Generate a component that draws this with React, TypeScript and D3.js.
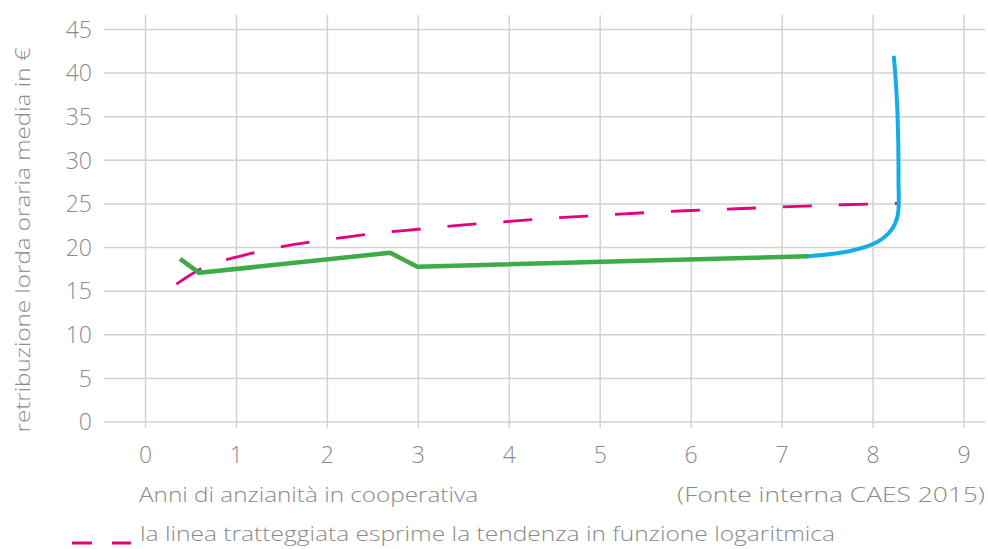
import * as d3 from "d3";

// green series: measured average hourly pay
const greenX = [0.38, 0.59, 2.69, 2.99, 7.29];
const greenY = [18.7, 17.1, 19.4, 17.8, 19.0];

// blue series: continuation at the top of seniority
const blueX = [7.29, 7.75, 8.04, 8.2, 8.27, 8.28, 8.27, 8.25, 8.23];
const blueY = [19.0, 19.6, 20.6, 22.0, 23.6, 27.8, 35.0, 39.0, 41.8];

// pink dashed logarithmic trend
const trendX = [0.34, 0.67, 1.0, 1.5, 2.0, 2.5, 3.0, 3.5, 4.0, 4.5, 5.0, 5.5, 6.0, 6.5, 7.0, 7.5, 8.0, 8.28];
const trendY = [15.8, 17.9, 18.9, 20.1, 20.9, 21.6, 22.1, 22.6, 23.0, 23.4, 23.7, 24.0, 24.25, 24.45, 24.65, 24.85, 25.0, 25.08];

const xTicks = [0, 1, 2, 3, 4, 5, 6, 7, 8, 9];
const yTicks = [0, 5, 10, 15, 20, 25, 30, 35, 40, 45];

const W = 988;
const H = 549;
const GRID = "#d2d2d2";
const TEXT = "#8a8a8a";
const FONT = "'Open Sans', 'Noto Sans', sans-serif";

export default function App() {
  const x = d3.scaleLinear().domain([0, 9]).range([145.5, 964]);
  const y = d3.scaleLinear().domain([0, 45]).range([422, 29.5]);

  const line = d3
    .line<[number, number]>()
    .x((d) => x(d[0]))
    .y((d) => y(d[1]));
  const smooth = d3
    .line<[number, number]>()
    .x((d) => x(d[0]))
    .y((d) => y(d[1]))
    .curve(d3.curveCatmullRom.alpha(0.5));

  const green = greenX.map((v, i) => [v, greenY[i]] as [number, number]);
  const blue = blueX.map((v, i) => [v, blueY[i]] as [number, number]);
  const trend = trendX.map((v, i) => [v, trendY[i]] as [number, number]);

  return (
    <svg
      width={W}
      height={H}
      style={{ position: "absolute", left: 0, top: 0, background: "#fff" }}
      fontFamily={FONT}
    >
      {/* grid */}
      {yTicks.map((t) => (
        <line key={"h" + t} x1={104} x2={985} y1={y(t)} y2={y(t)} stroke={GRID} strokeWidth={1.5} />
      ))}
      {xTicks.map((t) => (
        <line key={"v" + t} x1={x(t)} x2={x(t)} y1={15} y2={428} stroke={GRID} strokeWidth={1.5} />
      ))}

      {/* y tick labels */}
      {yTicks.map((t) => (
        <text key={"yl" + t} x={92} y={y(t)} dy="0.36em" textAnchor="end" fontSize={23} fill={TEXT} fontWeight={300}>
          {t}
        </text>
      ))}
      {/* x tick labels */}
      {xTicks.map((t) => (
        <text key={"xl" + t} x={x(t)} y={463} textAnchor="middle" fontSize={23} fill={TEXT} fontWeight={300}>
          {t}
        </text>
      ))}

      {/* series */}
      <path d={smooth(trend) ?? ""} fill="none" stroke="#e5007d" strokeWidth={2.8} strokeDasharray="29 27" />
      <path d={smooth(blue) ?? ""} fill="none" stroke="#14ade6" strokeWidth={4} strokeLinecap="round" />
      <path d={line(green) ?? ""} fill="none" stroke="#3dab47" strokeWidth={4.5} strokeLinejoin="round" />

      {/* axis titles */}
      <text
        transform={`translate(30,240) rotate(-90)`}
        textAnchor="middle"
        fontSize={21}
        fill={TEXT}
        fontWeight={300}
        textLength={385}
        lengthAdjust="spacingAndGlyphs"
      >
        retribuzione lorda oraria media in €
      </text>
      <text x={139} y={502} fontSize={21} fill={TEXT} fontWeight={300} textLength={339} lengthAdjust="spacingAndGlyphs">
        Anni di anzianità in cooperativa
      </text>
      <text x={677} y={502} fontSize={21} fill={TEXT} fontWeight={300} textLength={308} lengthAdjust="spacingAndGlyphs">
        (Fonte interna CAES 2015)
      </text>

      {/* legend */}
      <line x1={72} x2={92} y1={543} y2={543} stroke="#e5007d" strokeWidth={3} />
      <line x1={112} x2={131} y1={543} y2={543} stroke="#e5007d" strokeWidth={3} />
      <text x={140} y={541} fontSize={20.5} fill={TEXT} fontWeight={300} textLength={695} lengthAdjust="spacingAndGlyphs">
        la linea tratteggiata esprime la tendenza in funzione logaritmica
      </text>
    </svg>
  );
}
